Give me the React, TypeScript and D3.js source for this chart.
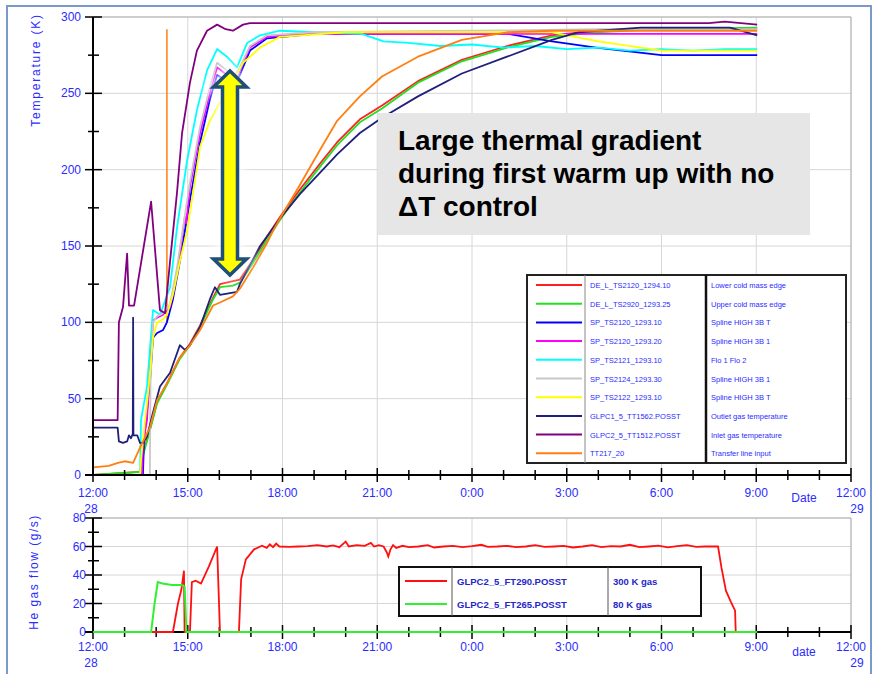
import React from "react";
import * as d3 from "d3";

// hours counted from 12:00 on the 28th
const timeTicks = [0, 3, 6, 9, 12, 15, 18, 21, 24];
const timeLabels = ["12:00", "15:00", "18:00", "21:00", "0:00", "3:00", "6:00", "9:00", "12:00"];
const tempTicks = [0, 50, 100, 150, 200, 250, 300];
const flowTicks = [0, 20, 40, 60, 80];

const names = [
  "DE_L_TS2120_1294.10", "DE_L_TS2920_1293.25", "SP_TS2120_1293.10", "SP_TS2120_1293.20",
  "SP_TS2121_1293.10", "SP_TS2124_1293.30", "SP_TS2122_1293.10", "GLPC1_5_TT1562.POSST",
  "GLPC2_5_TT1512.POSST", "TT217_20",
];
const descs = [
  "Lower cold mass edge", "Upper cold mass edge", "Spline HIGH 3B T", "Spline HIGH 3B 1",
  "Flo 1 Flo 2", "Spline HIGH 3B 1", "Spline HIGH 3B T", "Outlet gas temperature",
  "Inlet gas temperature", "Transfer line input",
];
const colors = ["#ff2020", "#20e020", "#0000ff", "#ff00ff", "#00ffff", "#c8c8c8", "#ffff00", "#20207a", "#800080", "#ff7f10"];

const red = [[0,0],[1.49,2],[1.6,15],[1.8,30],[2.03,48],[2.34,60],[2.75,77],[3.07,86],[3.39,98],[3.8,116],[4.02,125],[4.43,127],[4.65,128],[5.07,141],[5.51,156],[5.92,169],[6.55,187],[7.19,204],[7.73,218],[8.45,233],[9.15,242],[10.29,258],[11.68,272],[13.11,281],[14.53,288],[15.93,291],[18,292],[21.03,292]];
const green = [[0,0],[1.49,2],[1.6,14],[1.8,29],[2.03,47],[2.34,59],[2.75,76],[3.07,85],[3.39,97],[3.8,115],[4.02,123],[4.43,124],[4.65,126],[5.07,139],[5.51,154],[5.92,167],[6.55,185],[7.19,202],[7.73,216],[8.45,231],[9.15,240],[10.29,257],[11.68,271],[13.11,280],[14.53,287],[15.93,290],[18,292],[21.03,293]];
const blue = [[0,0],[1.58,0],[1.62,25],[1.8,60],[1.9,90],[2.03,93],[2.22,95],[2.34,100],[2.53,115],[2.75,140],[3.07,180],[3.39,218],[3.7,246],[3.93,262],[4.24,258],[4.43,254],[4.65,262],[4.97,278],[5.51,286],[7,289],[13.11,289],[14.53,284],[15.93,280],[18,275],[21.03,275]];
const magenta = [[0,0],[1.55,0],[1.58,20],[1.71,36],[1.8,69],[1.9,101],[2.03,103],[2.22,105],[2.44,110],[2.66,132],[2.91,169],[2.95,165],[3.07,189],[3.39,224],[3.7,250],[3.93,267],[4.24,262],[4.43,257],[4.65,265],[4.97,280],[5.51,287],[6.5,289],[10,289],[15,289],[21.03,289]];
const cyan = [[0,0],[1.49,0],[1.52,36],[1.71,58],[1.9,108],[2.12,105],[2.44,123],[2.66,162],[2.98,206],[3.29,239],[3.61,265],[3.93,279],[4.24,274],[4.56,267],[4.88,283],[5.29,288],[5.92,291],[7,290],[8.5,289],[9.2,284],[10,283],[11,281],[12,282],[13,280],[14,281],[15,279],[16,280],[17,278],[18,279],[19,278],[20,279],[21.03,279]];
const gray = [[0,0],[1.8,0],[1.82,60],[1.9,100],[2.03,104],[2.22,106],[2.44,112],[2.66,136],[3.07,192],[3.39,228],[3.7,254],[3.93,270],[4.24,265],[4.43,260],[4.65,267],[4.97,281],[5.51,288],[7,290],[12,291],[16,292],[21.03,292]];
const yellow = [[0,0],[1.49,0],[1.52,10],[1.62,30],[1.75,55],[1.9,90],[2.03,100],[2.22,102],[2.34,105],[2.53,118],[2.75,140],[2.98,160],[3.39,215],[3.7,232],[4.02,244],[4.34,254],[4.75,270],[5.29,280],[5.92,287],[8,290],[14.53,290],[16,284],[18,278],[21.03,278]];
const navy = [[0,31],[0.78,31],[0.82,22],[0.95,21],[1.08,22],[1.14,26],[1.2,24],[1.26,27],[1.27,103],[1.28,26],[1.4,26],[1.49,21],[1.58,21],[1.71,25],[1.9,41],[2.12,58],[2.44,67],[2.75,85],[2.91,82],[3.07,85],[3.39,97],[3.7,115],[3.86,123],[4.02,118],[4.56,120],[4.65,125],[5.29,150],[5.92,168],[6.55,184],[7.19,198],[7.73,210],[8.45,224],[9.15,234],[10.29,248],[11.68,263],[13.11,274],[14.53,285],[15.36,290],[17.35,293],[19.47,293],[20.17,293],[21.03,288]];
const purple = [[0,36],[0.78,36],[0.82,100],[0.95,110],[1.08,145],[1.14,111],[1.3,111],[1.84,179],[2.12,108],[2.28,106],[2.44,140],[2.66,185],[2.82,224],[3.07,257],[3.29,278],[3.61,291],[3.93,295],[4.2,292],[4.43,291],[4.75,295],[4.97,296],[8,296],[12,296],[16,296],[19.5,296],[20,297],[21.03,295]];
const orange = [[0,5],[0.5,6],[0.79,8],[1,9],[1.27,8],[1.49,18],[1.8,31],[2.03,49],[2.34,60],[2.75,77],[3.07,85],[3.39,95],[3.8,111],[4.02,113],[4.43,117],[4.65,122],[5.07,136],[5.51,152],[5.7,160],[5.92,168],[6.55,190],[7.19,213],[7.73,232],[8.45,248],[9.15,261],[10.29,274],[11.68,285],[13.11,290],[14.53,291],[21.03,291]];
const orangeSpike = [[2.34,100],[2.34,292]];

const tempSeries = [red, green, blue, magenta, cyan, gray, yellow, navy, purple, orange];

// bottom chart: He gas flow
const flowNames = ["GLPC2_5_FT290.POSST", "GLPC2_5_FT265.POSST"];
const flowDescs = ["300 K gas", "80 K gas"];
const flowColors = ["#ff1010", "#30f030"];
const flow300 = [[0,0],[2.53,0],[2.69,20],[2.8,30],[2.88,43],[2.9,0],[3.07,0],[3.13,35],[3.25,36],[3.42,34],[3.67,46],[3.93,60],[4.02,0],[4.62,0],[4.69,37],[4.84,51],[5.1,58],[5.35,60.5],[5.5,59],[5.6,61.5],[5.7,59.5],[5.8,62],[5.9,60],[6.2,59.8],[6.5,60],[6.8,60.3],[7.1,61],[7.4,60],[7.6,60.8],[7.8,59.5],[8,63.5],[8.1,60],[8.35,61],[8.6,60.5],[8.8,62.5],[8.9,60],[9.05,61],[9.2,60],[9.3,56],[9.35,53],[9.42,58],[9.5,61],[9.6,59],[9.8,60.5],[10,59.5],[10.3,60],[10.6,61],[10.8,59.3],[11.1,60],[11.4,60.5],[11.7,59.6],[12,60.2],[12.3,61.2],[12.5,59.8],[12.8,60],[13.1,60.5],[13.4,59.5],[13.7,60],[14,61],[14.3,59.7],[14.6,60],[14.9,60.4],[15.2,59.3],[15.5,60],[15.8,61],[16.1,59.6],[16.4,60.2],[16.7,60],[17,61.2],[17.3,59.5],[17.6,60],[17.9,60.6],[18.2,59.4],[18.5,60.2],[18.8,61],[19.1,59.7],[19.4,60],[19.79,60],[19.9,45],[20.04,29],[20.2,21],[20.33,15],[20.35,0],[21.03,0]];
const flow80 = [[0,0],[1.84,0],[1.95,20],[2.05,35],[2.2,34],[2.5,33],[2.8,33],[2.9,32],[2.96,0],[21.03,0]];

const blueText = "#2b2bff";
const narrow = "'Liberation Sans Narrow', 'Liberation Sans', Arial, sans-serif";

const x = d3.scaleLinear().domain([0, 24]).range([93, 851]);
const yT = d3.scaleLinear().domain([0, 300]).range([475, 17]);
const yF = d3.scaleLinear().domain([0, 80]).range([632, 518]);

const TimeAxis = ({ y0, labelY, dateLabel }) => (
  <g>
    {d3.range(0, 25).map((h) => (
      <line key={h} x1={x(h)} x2={x(h)} y1={y0 - (h % 3 === 0 ? 7 : 5)} y2={y0 + (h % 3 === 0 ? 7 : 5)} stroke="#000" strokeWidth={1.5} />
    ))}
    <line x1={x(0) - 8} x2={x(24)} y1={y0} y2={y0} stroke="#000" strokeWidth={2} />
    {timeTicks.map((t, i) => (
      <text key={t} x={x(t)} y={labelY} textAnchor="middle" fontSize={12} fill={blueText} fontFamily={narrow}>{timeLabels[i]}</text>
    ))}
    <text x={x(0) - 2} y={labelY + 16} textAnchor="middle" fontSize={12} fill={blueText} fontFamily={narrow}>28</text>
    <text x={x(24) + 6} y={labelY + 16} textAnchor="middle" fontSize={12} fill={blueText} fontFamily={narrow}>29</text>
    <text x={804} y={labelY + 5} textAnchor="middle" fontSize={12} fill={blueText} fontFamily={narrow}>{dateLabel}</text>
  </g>
);

const ValueAxis = ({ scale, ticks, minorStep, labelX }) => {
  const [lo, hi] = scale.domain();
  return (
    <g>
      {d3.range(lo, hi + 0.01, minorStep).map((v, i) => (
        <line key={v} x1={x(0) - (i % 2 === 0 ? 8 : 5)} x2={x(0) + (i % 2 === 0 ? 9 : 6)} y1={scale(v)} y2={scale(v)} stroke="#000" strokeWidth={1.5} />
      ))}
      <line x1={x(0)} x2={x(0)} y1={scale(hi)} y2={scale(lo)} stroke="#000" strokeWidth={2} />
      {ticks.map((v) => (
        <text key={v} x={labelX} y={scale(v) + 4} textAnchor="end" fontSize={12} fill={blueText} fontFamily={narrow}>{v}</text>
      ))}
    </g>
  );
};

const Grid = ({ scale, ticks }) => {
  const [lo, hi] = scale.domain();
  return (
    <g stroke="#d6d6d6" strokeWidth={1}>
      {ticks.filter((v) => v !== lo).map((v) => (
        <line key={"h" + v} x1={x(0)} x2={x(24)} y1={scale(v)} y2={scale(v)} />
      ))}
      {timeTicks.filter((t) => t !== 0).map((t) => (
        <line key={"v" + t} x1={x(t)} x2={x(t)} y1={scale(hi)} y2={scale(lo)} />
      ))}
    </g>
  );
};

const arrowPath = (cx, top, bottom) => {
  const hw = 16.5, hh = 16, sw = 7.5;
  return `M${cx},${top} L${cx + hw},${top + hh} L${cx + sw},${top + hh} L${cx + sw},${bottom - hh} L${cx + hw},${bottom - hh} L${cx},${bottom} L${cx - hw},${bottom - hh} L${cx - sw},${bottom - hh} L${cx - sw},${top + hh} L${cx - hw},${top + hh} Z`;
};

export default function App() {
  const lineT = d3.line().x((d) => x(d[0])).y((d) => yT(d[1]));
  const lineF = d3.line().x((d) => x(d[0])).y((d) => yF(d[1]));
  const rowsT = names.map((n, i) => ({ name: n, desc: descs[i], color: colors[i] }));
  const aPath = arrowPath(230, 71, 275);

  return (
    <svg width={876} height={674} style={{ position: "absolute", left: 0, top: 0, background: "#fff" }} fontFamily="'Liberation Sans', Arial, sans-serif">
      <defs>
        <filter id="glow" x="-100%" y="-20%" width="300%" height="140%">
          <feGaussianBlur stdDeviation="6" />
        </filter>
      </defs>
      <rect x={7} y={6} width={864} height={700} fill="none" stroke="#7b9acb" strokeWidth={2} />

      {/* top chart */}
      <Grid scale={yT} ticks={tempTicks} />
      <line x1={x(0)} x2={x(24)} y1={yT(300)} y2={yT(300)} stroke="#b0b0b0" />
      <line x1={x(24)} x2={x(24)} y1={yT(300)} y2={yT(0)} stroke="#b0b0b0" />
      <path d={lineT(orangeSpike)} fill="none" stroke={colors[9]} strokeWidth={1.5} />
      {tempSeries.map((s, i) => (
        <path key={i} d={lineT(s)} fill="none" stroke={colors[i]} strokeWidth={1.8} strokeLinejoin="round" />
      ))}
      <ValueAxis scale={yT} ticks={tempTicks} minorStep={25} labelX={81} />
      <TimeAxis y0={475} labelY={497} dateLabel="Date" />
      <text transform="translate(40,70) rotate(-90)" textAnchor="middle" fontSize={12} letterSpacing={1.8} fill={blueText} fontFamily={narrow}>Temperature (K)</text>

      {/* legend of the top chart */}
      <g>
        <rect x={527} y={275} width={319} height={188} fill="#fff" stroke="#222" strokeWidth={2} />
        <line x1={585} x2={585} y1={275} y2={463} stroke="#888" strokeWidth={1} />
        <line x1={706} x2={706} y1={275} y2={463} stroke="#111" strokeWidth={2.5} />
        {rowsT.map((r, i) => {
          const ry = 285 + i * 18.7;
          return (
            <g key={i}>
              <line x1={536} x2={582} y1={ry} y2={ry} stroke={r.color} strokeWidth={2} />
              <text x={590} y={ry + 3} fontSize={7.5} fill={blueText}>{r.name}</text>
              <text x={711} y={ry + 3} fontSize={7.5} fill={blueText}>{r.desc}</text>
            </g>
          );
        })}
      </g>

      {/* annotation */}
      <rect x={378} y={113} width={432} height={122} fill="#e6e6e6" />
      <g fontSize={28} fontWeight="bold" fill="#000">
        <text x={398} y={150}>Large thermal gradient</text>
        <text x={398} y={183}>during first warm up with no</text>
        <text x={398} y={216}>ΔT control</text>
      </g>
      <path d={aPath} fill="#fff" stroke="#fff" strokeWidth={10} filter="url(#glow)" opacity={0.9} />
      <path d={aPath} fill="#ffff00" stroke="#1f4e79" strokeWidth={3.5} strokeLinejoin="miter" />

      {/* bottom chart */}
      <Grid scale={yF} ticks={flowTicks} />
      <line x1={x(0)} x2={x(24)} y1={yF(80)} y2={yF(80)} stroke="#b0b0b0" />
      <line x1={x(24)} x2={x(24)} y1={yF(80)} y2={yF(0)} stroke="#b0b0b0" />
      <ValueAxis scale={yF} ticks={flowTicks} minorStep={10} labelX={86} />
      <TimeAxis y0={632} labelY={651} dateLabel="date" />
      <path d={lineF(flow300)} fill="none" stroke={flowColors[0]} strokeWidth={1.8} />
      <path d={lineF(flow80)} fill="none" stroke={flowColors[1]} strokeWidth={2} />
      <text transform="translate(38,572) rotate(-90)" textAnchor="middle" fontSize={12} letterSpacing={1.5} fill={blueText} fontFamily={narrow}>He gas flow (g/s)</text>

      <g>
        <rect x={399} y={567} width={302} height={49} fill="#fff" stroke="#111" strokeWidth={2} />
        <line x1={452} x2={452} y1={567} y2={616} stroke="#555" />
        <line x1={608} x2={608} y1={567} y2={616} stroke="#555" />
        {flowNames.map((n, i) => {
          const ry = 581 + i * 23;
          return (
            <g key={n}>
              <line x1={405} x2={447} y1={ry} y2={ry} stroke={flowColors[i]} strokeWidth={2} />
              <text x={457} y={ry + 3.5} fontSize={9.5} fontWeight="bold" fill="#2626c8" fontFamily={narrow}>{n}</text>
              <text x={613} y={ry + 3.5} fontSize={9.5} fontWeight="bold" fill="#2626c8" fontFamily={narrow}>{flowDescs[i]}</text>
            </g>
          );
        })}
      </g>
    </svg>
  );
}
